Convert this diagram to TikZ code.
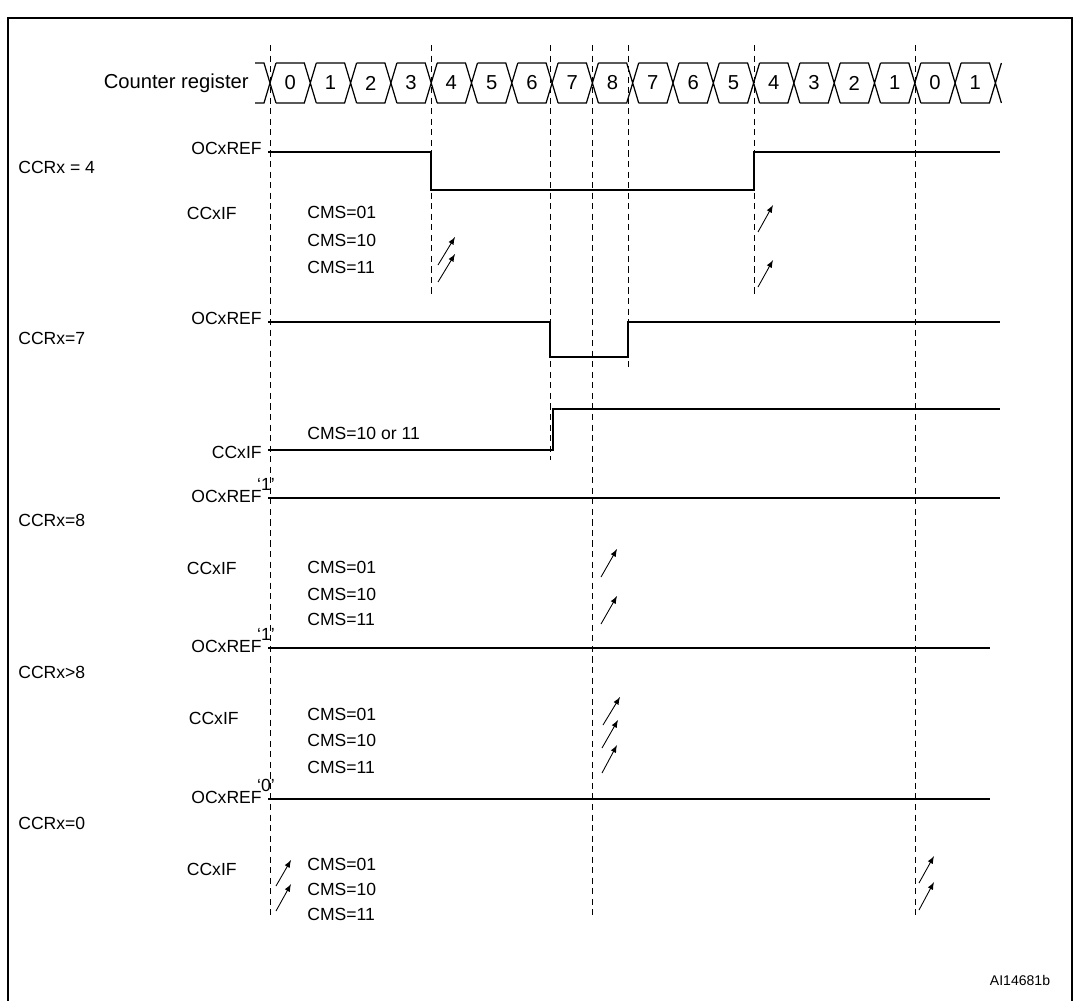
\documentclass[tikz,border=0pt]{standalone}
\usepackage{fontspec}
\setmainfont{Liberation Sans}
\begin{document}
\begin{tikzpicture}[x=0.02cm,y=-0.02cm,
  every node/.style={font=\fontsize{10}{12}\selectfont,inner sep=0pt},
  sig/.style={line width=0.7pt},
  dl/.style={dashed,line width=0.5pt,dash pattern=on 3.5pt off 2.5pt},
  ar/.style={-latex,line width=0.5pt},
  lbl/.style={anchor=east},
  cms/.style={anchor=west}]
\useasboundingbox (0,0) rectangle (1079,1001);
\draw[line width=0.8pt] (8,1001) -- (8,18) -- (1072,18) -- (1072,1001);
% dashed lines
\foreach \x/\e in {270/915,431/297,550/460,592/915,628/367,754/297,915/915}
  \draw[dl] (\x,45) -- (\x,\e);
% bus
\node[lbl,font=\fontsize{11.5}{13}\selectfont] (cr) at (249,83) {Counter register};
\draw[sig] (255,63) -- (264,63) -- (276,103) (255,103) -- (264,103) -- (276,63);
\foreach [count=\i from 0] \v in {0,1,2,3,4,5,6,7,8,7,6,5,4,3,2,1,0,1}{
  \pgfmathsetmacro\xa{270+40.3*\i}
  \pgfmathsetmacro\xb{270+40.3*(\i+1)}
  \draw[sig] (\xa+6,63) -- (\xb-6,63) -- (\xb+6,103) (\xa+6,103) -- (\xb-6,103) -- (\xb+6,63);
  \node[font=\fontsize{11.5}{13}\selectfont] (c\i) at ({(\xa+\xb)/2},83) {\v};
}
% row 1
\node[lbl] (o1) at (262,148) {OCxREF};
\node[anchor=west] (r1) at (18,167) {CCRx = 4};
\coordinate (o1s) at (268,152);
\draw[sig] (o1s) -- (431,152) -- (431,190) -- (754,190) -- (754,152) -- (1000,152);
\node[lbl] (i1) at (237,213) {CCxIF};
\node[cms] (a1) at (307,212) {CMS=01};
\node[cms] (b1) at (307,240) {CMS=10};
\node[cms] (d1) at (307,267) {CMS=11};
\draw[ar] (438,265) -- (455,237);
\draw[ar] (438,282) -- (455,254);
\draw[ar] (758,232) -- (773,205);
\draw[ar] (758,287) -- (773,260);
% row 2
\node[lbl] (o2) at (262,318) {OCxREF};
\node[anchor=west] (r2) at (18,338) {CCRx=7};
\draw[sig] (268,322) -- (550,322) -- (550,357) -- (628,357) -- (628,322) -- (1000,322);
\node[lbl] (i2) at (262,452) {CCxIF};
\node[cms] (e2) at (307,433) {CMS=10 or 11};
\draw[sig] (268,450) -- (553,450) -- (553,409) -- (1000,409);
% row 3
\node[lbl] (o3) at (262,496) {OCxREF};
\node (q3) at (266,484) {`1'};
\node[anchor=west] (r3) at (18,520) {CCRx=8};
\draw[sig] (268,498) -- (1000,498);
\node[lbl] (i3) at (237,568) {CCxIF};
\node[cms] (a3) at (307,567) {CMS=01};
\node[cms] (b3) at (307,594) {CMS=10};
\node[cms] (d3) at (307,619) {CMS=11};
\draw[ar] (601,577) -- (617,549);
\draw[ar] (601,624) -- (617,596);
% row 4
\node[lbl] (o4) at (262,646) {OCxREF};
\node (q4) at (266,634) {`1'};
\node[anchor=west] (r4) at (18,672) {CCRx>8};
\draw[sig] (268,648) -- (990,648);
\node[lbl] (i4) at (239,718) {CCxIF};
\node[cms] (a4) at (307,714) {CMS=01};
\node[cms] (b4) at (307,740) {CMS=10};
\node[cms] (d4) at (307,767) {CMS=11};
\draw[ar] (603,725) -- (620,697);
\draw[ar] (602,748) -- (618,720);
\draw[ar] (602,773) -- (617,745);
% row 5
\node[lbl] (o5) at (262,797) {OCxREF};
\node (q5) at (266,785) {`0'};
\node[anchor=west] (r5) at (18,823) {CCRx=0};
\draw[sig] (268,799) -- (990,799);
\node[lbl] (i5) at (237,869) {CCxIF};
\node[cms] (a5) at (307,864) {CMS=01};
\node[cms] (b5) at (307,889) {CMS=10};
\node[cms] (d5) at (307,914) {CMS=11};
\draw[ar] (276,886) -- (291,860);
\draw[ar] (276,911) -- (291,884);
\draw[ar] (919,883) -- (934,856);
\draw[ar] (919,910) -- (934,882);
\node[font=\fontsize{8}{9}\selectfont] (id) at (1020,980) {AI14681b};
\end{tikzpicture}
\end{document}
